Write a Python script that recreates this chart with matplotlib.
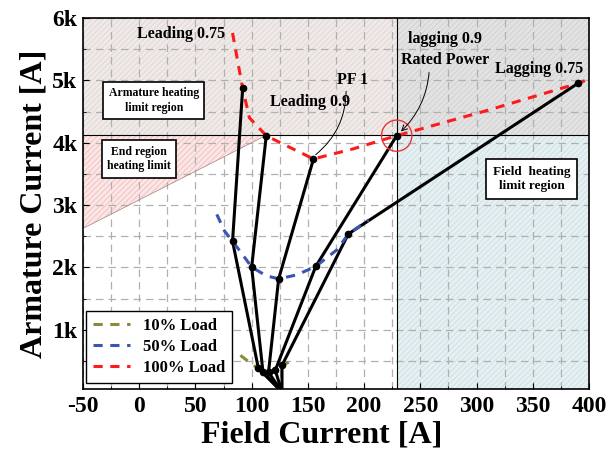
import matplotlib
matplotlib.use("Agg")
import matplotlib.pyplot as plt
from matplotlib.patches import Ellipse
import numpy as np

plt.rcParams['font.family'] = ['Liberation Serif', 'DejaVu Serif']
plt.rcParams['font.weight'] = 'bold'
plt.rcParams['hatch.linewidth'] = 0.4
plt.rcParams['axes.unicode_minus'] = False

# ---- data ----
xlim = (-50, 400)
ylim = (50, 6000)
armature_limit = 4120
field_limit = 229

# 100% load curve (red dashed)
load100_x = [83, 92, 98, 113, 130, 155, 190, 229, 310, 390, 401]
load100_y = [5760, 4870, 4400, 4113, 3960, 3740, 3900, 4113, 4520, 4950, 5030]
# 50% load curve (blue dashed)
load50_x = [69, 76, 83, 93, 100, 113, 124, 140, 157, 176, 186, 204]
load50_y = [2850, 2580, 2420, 2180, 2005, 1866, 1817, 1880, 2016, 2285, 2537, 2760]
# 10% load curve (olive dashed)
load10_x = [90, 100, 106, 111, 116, 121, 127, 133]
load10_y = [590, 450, 380, 330, 315, 345, 430, 480]

# power-factor lines: 100% point, 50% point, 10% point, origin
pf_names = ['Leading 0.75', 'Leading 0.9', 'PF 1', 'Lagging 0.9', 'Lagging 0.75']
pf_x = [[92, 83, 106, 127], [113, 100, 110, 127], [155, 124, 115, 127],
        [229, 157, 121, 127], [390, 186, 127, 127]]
pf_y = [[4870, 2420, 380, 0], [4113, 2005, 330, 0], [3740, 1817, 320, 0],
        [4113, 2016, 350, 0], [4950, 2537, 430, 0]]

end_region_x = [-50, 113, -50]
end_region_y = [armature_limit, armature_limit, 2625]

fig = plt.figure(figsize=(6.13, 4.63), dpi=100)
ax = fig.add_axes([0.1354, 0.1598, 0.8254, 0.8013])
ax.set_xlim(*xlim)
ax.set_ylim(*ylim)

# regions
ax.fill_between([xlim[0], field_limit], armature_limit, ylim[1], facecolor='#efe9e7',
                edgecolor='#d8cfcb', hatch='//////', linewidth=0, zorder=0)
ax.fill_between([field_limit, xlim[1]], armature_limit, ylim[1], facecolor='#e2e2e2',
                edgecolor='#c8c8c8', hatch='//////', linewidth=0, zorder=0)
ax.fill_between([field_limit, xlim[1]], ylim[0], armature_limit, facecolor='#e4f0f2',
                edgecolor='#c4d6da', hatch='//////', linewidth=0, zorder=0)
ax.fill(end_region_x, end_region_y, facecolor='#fbe6e6', edgecolor='#f0a8a8',
        hatch='//////', linewidth=0, zorder=0.5)
ax.plot([end_region_x[1], end_region_x[2]], [end_region_y[1], end_region_y[2]],
        color='#a08080', lw=0.5, zorder=0.6)
ax.axhline(armature_limit, color='black', lw=0.8, zorder=1)
ax.axvline(field_limit, color='black', lw=0.8, zorder=1)

# grid
ax.set_xticks(np.arange(-50, 401, 50))
ax.set_yticks(np.arange(1000, 6001, 1000))
ax.set_xticks(np.arange(-50, 401, 25), minor=True)
ax.set_yticks(np.arange(500, 6001, 500), minor=True)
ax.grid(True, which='both', color='#b0b0b0', ls=(0, (6, 4)), lw=0.9, zorder=0.8)
ax.set_axisbelow(True)
ax.set_yticklabels(['1k', '2k', '3k', '4k', '5k', '6k'])
ax.tick_params(which='both', direction='in', labelsize=17, top=False, right=False)
ax.tick_params(which='major', length=4)
ax.tick_params(which='minor', length=2.5)
for lab in ax.get_xticklabels() + ax.get_yticklabels():
    lab.set_fontweight('bold')
ax.tick_params(axis='x', pad=5)
ax.tick_params(axis='y', pad=4)

# black lines
for xs, ys in zip(pf_x, pf_y):
    ax.plot(xs, ys, color='black', lw=2.2, zorder=3, clip_on=True)
    ax.plot(xs[:3], ys[:3], 'o', color='black', ms=4.5, zorder=5)

# load curves
l10, = ax.plot(load10_x, load10_y, color='#8a8a3a', lw=2.2, ls=(0, (3, 2.5)), zorder=4, label='10% Load')
l50, = ax.plot(load50_x, load50_y, color='#3a55b0', lw=2.2, ls=(0, (3, 2.5)), zorder=4, label='50% Load')
l100, = ax.plot(load100_x, load100_y, color='#ff1a1a', lw=2.2, ls=(0, (3, 2.5)), zorder=4, label='100% Load')

# red circle around rated point
ax.add_patch(Ellipse((229, 4113), 27, 500, fill=False, edgecolor='#ee3333', lw=1.0, zorder=6))

# texts
tk = dict(fontsize=11.5, fontweight='bold', ha='center', va='center', zorder=7)
ax.text(37, 5750, 'Leading 0.75', **tk)
ax.text(152, 4650, 'Leading 0.9', **tk)
ax.text(190, 5000, 'PF 1', **tk)
ax.text(272, 5660, 'lagging 0.9', **tk)
ax.text(272, 5320, 'Rated Power', **tk)
ax.text(356, 5180, 'Lagging 0.75', **tk)

ax.annotate('', xy=(155, 3780), xytext=(184, 4870),
            arrowprops=dict(arrowstyle='-', color='black', lw=0.7,
                            connectionstyle='arc3,rad=-0.25'), zorder=7)
ax.annotate('', xy=(231, 4150), xytext=(258, 5170),
            arrowprops=dict(arrowstyle='->', color='black', lw=0.7,
                            connectionstyle='arc3,rad=-0.2'), zorder=7)

bx = dict(boxstyle='square,pad=0.45', facecolor='white', edgecolor='black', lw=1.2)
ax.text(13, 4680, 'Armature heating\nlimit region', fontsize=8.5, fontweight='bold',
        ha='center', va='center', bbox=bx, zorder=7, linespacing=1.3)
ax.text(0, 3740, 'End region\nheating limit', fontsize=8.5, fontweight='bold',
        ha='center', va='center', bbox=bx, zorder=7, linespacing=1.3)
bx2 = dict(boxstyle='square,pad=0.5', facecolor='white', edgecolor='black', lw=1.2)
ax.text(349, 3420, 'Field  heating\nlimit region', fontsize=9.5, fontweight='bold',
        ha='center', va='center', bbox=bx2, zorder=7, linespacing=1.25)

leg = ax.legend(handles=[l10, l50, l100], loc='lower left', bbox_to_anchor=(-0.01, -0.005),
                prop={'family': 'Liberation Serif', 'weight': 'bold', 'size': 12},
                frameon=True, fancybox=False, edgecolor='black', framealpha=1,
                handlelength=2.2, borderpad=0.4, labelspacing=0.3)
leg.get_frame().set_linewidth(1.0)
leg.set_zorder(8)

for s in ax.spines.values():
    s.set_linewidth(1.2)

ax.set_xlabel('Field Current [A]', fontsize=23, fontweight='bold')
ax.xaxis.set_label_coords(0.472, -0.085)
ax.set_ylabel('Armature Current [A]', fontsize=23, fontweight='bold', labelpad=3)

fig.savefig('out.png', dpi=100)
